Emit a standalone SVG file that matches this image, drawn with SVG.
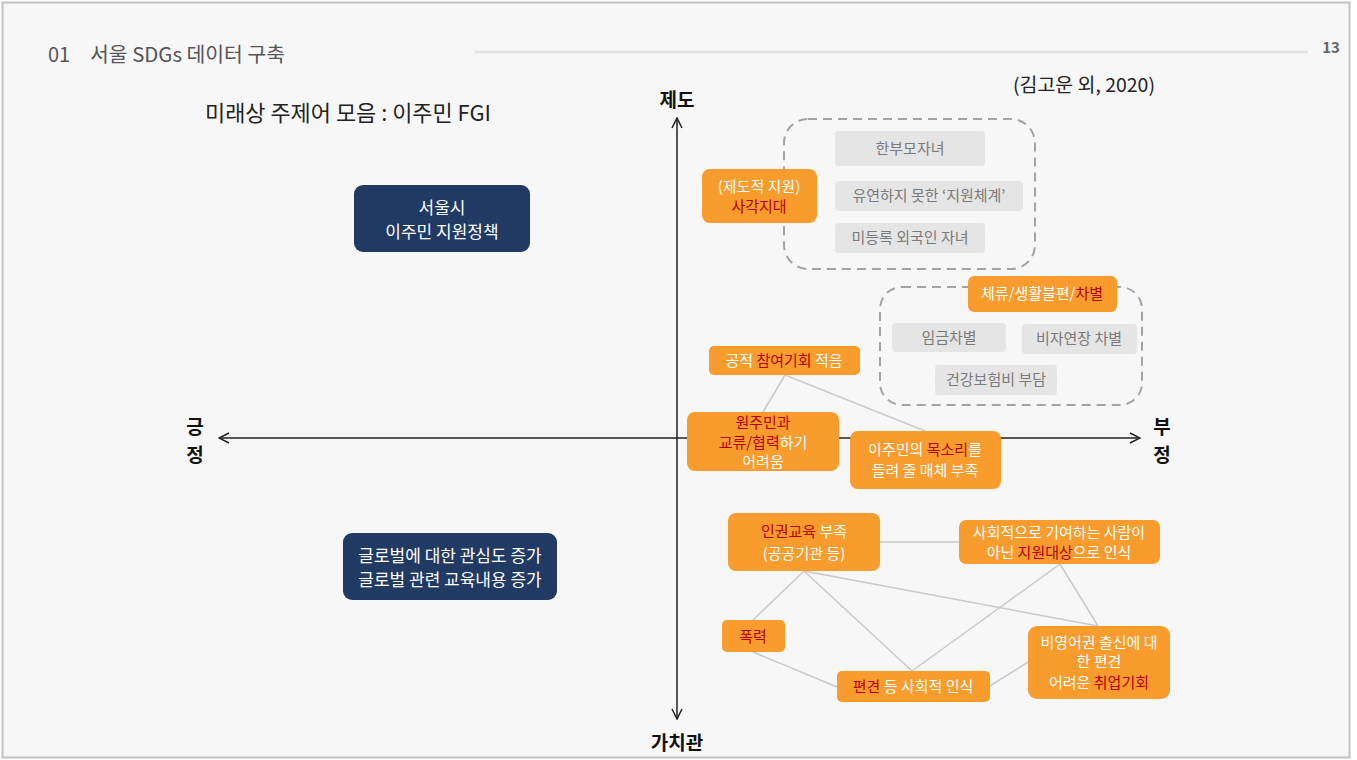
<svg xmlns="http://www.w3.org/2000/svg" width="1357" height="760" viewBox="0 0 1357 760">
<defs>
<style>
text{font-family:"Noto Sans CJK KR","Noto Sans",sans-serif;}
.or{fill:#f79c2d;}
.nv{fill:#213a63;}
.gr{fill:#e5e5e5;}
.dash{fill:none;stroke:#a3a3a3;stroke-width:2;stroke-dasharray:9 6;}
.wt{fill:#ffffff;font-size:15px;text-anchor:middle;}
.nt{fill:#ffffff;font-size:17px;text-anchor:middle;}
.gt{fill:#7a7a7a;font-size:15px;text-anchor:middle;}
.rd{fill:#b50000;}
.ax{stroke:#222;stroke-width:1.5;fill:none;}
.cn{stroke:#c9c9c9;stroke-width:1.5;fill:none;}
.lbl{font-size:19px;font-weight:bold;fill:#111;text-anchor:middle;}
</style>
<marker id="ah" viewBox="0 0 12 12" refX="11" refY="6" markerWidth="12" markerHeight="12" markerUnits="userSpaceOnUse" orient="auto-start-reverse">
<path d="M1,1 L11,6 L1,11" fill="none" stroke="#222" stroke-width="1.5"/>
</marker>
</defs>
<rect x="0" y="0" width="1357" height="760" fill="#ffffff"/>
<rect x="2.5" y="2.5" width="1347" height="755" fill="#f7f7f7" stroke="#c4c4c4" stroke-width="2"/>

<g id="header">
<text x="48" y="62" font-size="20" fill="#555">01</text>
<text x="90" y="62" font-size="20" fill="#555" textLength="195" lengthAdjust="spacingAndGlyphs">서울 SDGs 데이터 구축</text>
<line x1="475" y1="52" x2="1308" y2="52" stroke="#e4e4e4" stroke-width="3"/>
<text x="1331" y="53" font-size="15" font-weight="bold" fill="#666" text-anchor="middle">13</text>
<text x="205" y="121" font-size="22" fill="#222" textLength="286" lengthAdjust="spacingAndGlyphs">미래상 주제어 모음 : 이주민 FGI</text>
<text x="1013" y="92" font-size="19" fill="#222" textLength="142" lengthAdjust="spacingAndGlyphs">(김고운 외, 2020)</text>
</g>

<g id="axes">
<line class="ax" x1="677" y1="719" x2="677" y2="118" marker-start="url(#ah)" marker-end="url(#ah)"/>
<line class="ax" x1="219" y1="438" x2="1140" y2="438" marker-start="url(#ah)" marker-end="url(#ah)"/>
<text class="lbl" x="677" y="107">제도</text>
<text class="lbl" x="677" y="750">가치관</text>
<text class="lbl" x="195" y="434">긍</text>
<text class="lbl" x="195" y="462">정</text>
<text class="lbl" x="1162" y="434">부</text>
<text class="lbl" x="1162" y="462">정</text>
</g>

<g id="connectors">
<line class="cn" x1="785" y1="375" x2="763" y2="412"/>
<line class="cn" x1="785" y1="375" x2="925" y2="431"/>
<line class="cn" x1="880" y1="542" x2="959" y2="542"/>
<line class="cn" x1="804" y1="571" x2="753" y2="620"/>
<line class="cn" x1="804" y1="571" x2="912" y2="671"/>
<line class="cn" x1="804" y1="571" x2="1098" y2="626"/>
<line class="cn" x1="1060" y1="564" x2="912" y2="671"/>
<line class="cn" x1="1060" y1="564" x2="1098" y2="626"/>
<line class="cn" x1="753" y1="652" x2="837" y2="687"/>
<line class="cn" x1="990" y1="686" x2="1028" y2="662"/>
</g>

<g id="navy1">
<rect class="nv" x="354" y="185" width="176" height="67" rx="9"/>
<text class="nt" x="442" y="214">서울시</text>
<text class="nt" x="442" y="238">이주민 지원정책</text>
</g>
<g id="navy2">
<rect class="nv" x="343" y="533" width="214" height="67" rx="9"/>
<text class="nt" x="450" y="562">글로벌에 대한 관심도 증가</text>
<text class="nt" x="450" y="586">글로벌 관련 교육내용 증가</text>
</g>

<g id="group1">
<rect class="dash" x="784" y="119" width="251" height="150" rx="24"/>
</g>
<g id="g-hanbumo">
<rect class="gr" x="835" y="131" width="150" height="35" rx="4"/>
<text class="gt" x="910" y="154">한부모자녀</text>
</g>
<g id="g-yuyeon">
<rect class="gr" x="835" y="181" width="188" height="30" rx="4"/>
<text class="gt" x="929" y="201">유연하지 못한 ‘지원체계’</text>
</g>
<g id="g-midr">
<rect class="gr" x="835" y="223" width="150" height="30" rx="4"/>
<text class="gt" x="910" y="243">미등록 외국인 자녀</text>
</g>
<g id="o-sagak">
<rect class="or" x="702" y="169" width="115" height="54" rx="8"/>
<text class="wt" x="759" y="192">(제도적 지원)</text>
<text class="wt" x="759" y="212"><tspan class="rd">사각지대</tspan></text>
</g>

<g id="group2">
<rect class="dash" x="880" y="287" width="262" height="118" rx="22"/>
</g>
<g id="o-cheryu">
<rect class="or" x="968" y="276" width="149" height="36" rx="6"/>
<text class="wt" x="1042" y="299">체류/생활불편/<tspan class="rd">차별</tspan></text>
</g>
<g id="g-imgeum">
<rect class="gr" x="892" y="323" width="114" height="29" rx="4"/>
<text class="gt" x="949" y="343">임금차별</text>
</g>
<g id="g-visa">
<rect class="gr" x="1022" y="324" width="115" height="30" rx="4"/>
<text class="gt" x="1079" y="344">비자연장 차별</text>
</g>
<g id="g-health">
<rect class="gr" x="935" y="365" width="122" height="30" rx="4"/>
<text class="gt" x="996" y="385">건강보험비 부담</text>
</g>

<g id="o-gongjeok">
<rect class="or" x="709" y="346" width="151" height="29" rx="5"/>
<text class="wt" x="784" y="366">공적 <tspan class="rd">참여기회</tspan> 적음</text>
</g>
<g id="o-wonjumin">
<rect class="or" x="687" y="412" width="152" height="59" rx="8"/>
<text class="wt" x="763" y="428" font-size="14.5"><tspan class="rd">원주민과</tspan></text>
<text class="wt" x="763" y="447.5" font-size="14.5"><tspan class="rd">교류/협력</tspan>하기</text>
<text class="wt" x="763" y="467" font-size="14.5">어려움</text>
</g>
<g id="o-moksori">
<rect class="or" x="850" y="431" width="151" height="58" rx="8"/>
<text class="wt" x="925" y="455">이주민의 <tspan class="rd">목소리</tspan>를</text>
<text class="wt" x="925" y="476">들려 줄 매체 부족</text>
</g>

<g id="o-ingwon">
<rect class="or" x="728" y="513" width="152" height="58" rx="8"/>
<text class="wt" x="804" y="537"><tspan class="rd">인권교육</tspan> 부족</text>
<text class="wt" x="804" y="559">(공공기관 등)</text>
</g>
<g id="o-sahoejeok">
<rect class="or" x="959" y="520" width="201" height="44" rx="7"/>
<text class="wt" x="1059" y="538">사회적으로 기여하는 사람이</text>
<text class="wt" x="1059" y="558">아닌 <tspan class="rd">지원대상</tspan>으로 인식</text>
</g>
<g id="o-pokryeok">
<rect class="or" x="722" y="620" width="63" height="32" rx="5"/>
<text class="wt" x="753" y="642"><tspan class="rd">폭력</tspan></text>
</g>
<g id="o-pyeongyeon">
<rect class="or" x="837" y="671" width="153" height="31" rx="5"/>
<text class="wt" x="913" y="692"><tspan class="rd">편견</tspan> 등 사회적 인식</text>
</g>
<g id="o-biyeongeo">
<rect class="or" x="1028" y="626" width="142" height="73" rx="9"/>
<text class="wt" x="1099" y="648">비영어권 출신에 대</text>
<text class="wt" x="1099" y="667">한 편견</text>
<text class="wt" x="1099" y="688">어려운 <tspan class="rd">취업기회</tspan></text>
</g>
</svg>
